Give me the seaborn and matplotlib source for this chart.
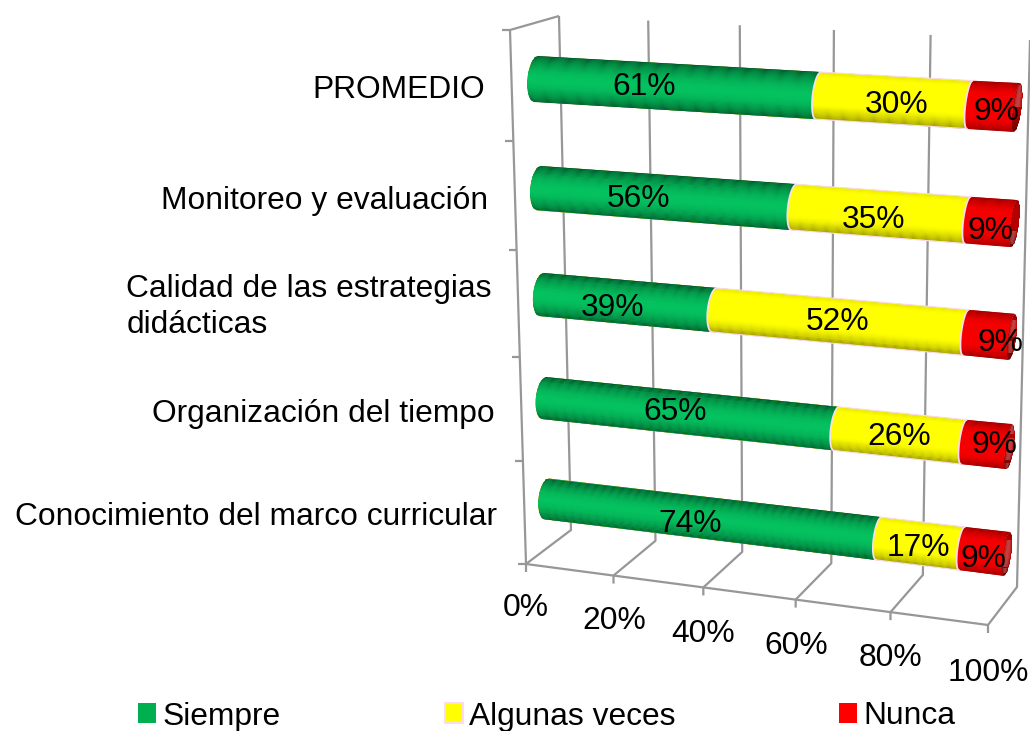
import numpy as np
import pandas as pd
import matplotlib
matplotlib.use("Agg")
import matplotlib.pyplot as plt
from matplotlib.colors import to_rgb
from matplotlib.patches import Patch
from matplotlib.path import Path
from matplotlib.transforms import Transform, IdentityTransform
import seaborn as sns

# ---- data -------------------------------------------------------------
categories = ["PROMEDIO", "Monitoreo y evaluación",
              "Calidad de las estrategias\ndidácticas",
              "Organización del tiempo", "Conocimiento del marco curricular"]
siempre = [61, 56, 39, 65, 74]
algunas = [30, 35, 52, 26, 17]
nunca = [9, 9, 9, 9, 9]
series_names = ["Siempre", "Algunas veces", "Nunca"]
axis_ticks = [0, 20, 40, 60, 80, 100]

# ---- layout (pixels of the 1030x731 canvas) ----------------------------
W, H = 1030, 731
BAR_W = 0.41
HW = BAR_W / 2
GREEN, YELLOW, RED = "#04c25f", "#ffff00", "#f50000"
LEG_COL = ["#00b050", "#ffff00", "#ff0000"]
GRID = "#979797"
PINK = "#fbdcec"
FS = 22.9

sns.set_theme(style="white")
plt.rcParams["font.family"] = ["Liberation Sans", "DejaVu Sans"]


def warp(s, k):
    s = np.asarray(s, float)
    return s / (1 + k * (1 - s))


def lerp(a, b, t):
    return a[0] + (b[0] - a[0]) * t, a[1] + (b[1] - a[1]) * t


class Warp(Transform):
    input_dims = output_dims = 2
    is_separable = False
    has_inverse = False

    def __init__(self, func, steps=1):
        super().__init__()
        self.func = func
        self.steps = steps

    def transform_non_affine(self, xy):
        xy = np.asarray(xy, float)
        px, py = self.func(xy[:, 0], xy[:, 1])
        return np.column_stack([px, H - py])

    def transform_path_non_affine(self, path):
        p = path.interpolated(self.steps) if self.steps > 1 else path
        return Path(self.transform_non_affine(p.vertices), p.codes)


def bar_map(v, y):
    """value / category position -> canvas pixel, on the tilted cylinder plane"""
    u = warp(v / 100.0, 0.10)
    c = np.round(y)
    r = np.clip((y - c) / HW, -1, 1)
    t = 1 - warp(1 - (y / 4.0), 0.055)
    lx0, ly0 = lerp((536, 79), (547, 499), t)
    lx1, ly1 = lerp((1017, 107.5), (1007, 554), t)
    x = lx0 + (lx1 - lx0) * u
    yy = ly0 + (ly1 - ly0) * u
    e = 8.5 - 4.5 * u
    x = x - e * np.sqrt(1 - r ** 2) - 2.5 * r
    return x, yy


def wall_map(v, w):
    """value / wall position: w in [-1,0] floor, [0,1] back wall, < -1 tick"""
    u = warp(v / 100.0, 0.07)
    fx, fy = lerp((526, 564), (988, 625), u)
    bx, by = lerp((571, 530), (1017, 587), u)
    tx, ty = lerp((559, 16), (1030, 40), u)
    x = np.where(w < 0, fx + (bx - fx) * (w + 1), bx + (tx - bx) * w)
    y = np.where(w < 0, fy + (by - fy) * (w + 1), by + (ty - by) * w)
    x = np.where(w < -1, fx, x)
    y = np.where(w < -1, fy + (-1 - w) * 40, y)
    return x, y


def side_map(d, h):
    """tick offset in px / category-edge position on the left wall"""
    t = 1 - warp(1 - h / 5.0, 0.05)
    x, y = lerp((510, 30), (526, 564), t)
    return x + d, y


T_BAR = Warp(bar_map, steps=30)
T_WALL = Warp(wall_map)
T_SIDE = Warp(side_map)

fig = plt.figure(figsize=(W / 100, H / 100), dpi=100)
ax_frame = fig.add_axes([0, 0, 1, 1], label="frame", zorder=0)
ax = fig.add_axes([0, 0, 1, 1], label="bars", zorder=1)
ax_top = fig.add_axes([0, 0, 1, 1], label="top", zorder=2)
for a in (ax_frame, ax_top):
    a.set_axis_off()

# ---- frame -------------------------------------------------------------
lk = dict(color=GRID, lw=1.6, zorder=1, clip_on=False, solid_capstyle="butt")
for tv in axis_ticks:
    ax_frame.plot([tv, tv, tv, tv], [-1.2, -1, 0, 1], transform=T_WALL, **lk)
ax_frame.plot([0, 100], [-1, -1], transform=T_WALL, **lk)
ax_frame.plot([0, 0], [0, 5], transform=T_SIDE, **lk)
for h in range(6):
    ax_frame.plot([-8, 0], [h, h], transform=T_SIDE, **lk)
ax_frame.plot([510, 559], [H - 30, H - 16], transform=IdentityTransform(), **lk)

# ---- bars: stacked by overdrawing the cumulative totals ----------------
df = pd.DataFrame({"cat": categories, "s": siempre, "a": algunas, "n": nunca})
df["c1"] = df["s"]
df["c2"] = df["s"] + df["a"]
df["c3"] = df["c2"] + df["n"]
for col, colr in (("c3", RED), ("c2", YELLOW), ("c1", GREEN)):
    sns.barplot(data=df, y="cat", x=col, color=colr, saturation=1, width=BAR_W,
                errorbar=None, ax=ax, linewidth=0, zorder=2)
ax.set_axis_off()
for p in ax.patches:
    p.set_transform(T_BAR)
    p.set_clip_on(False)


# ---- cylinder shading ---------------------------------------------------
def shade(kind, r):
    if kind == 0:
        return 0.55 * np.abs(r) ** 2.0
    if kind == 1:
        return 0.42 * np.clip((r - 0.35) / 0.65, 0, 1) ** 1.4 + 0.1 * np.clip((-r - 0.8) / 0.2, 0, 1)
    return 0.38 * np.clip((np.abs(r) - 0.45) / 0.55, 0, 1) ** 1.5


rows = 48
bases = [np.array(to_rgb(c)) for c in (GREEN, YELLOW, RED)]
for i in range(len(categories)):
    edges = [0, df.c1[i], df.c2[i], df.c3[i]]
    rr = np.linspace(-1, 1, rows + 1)
    rc = (rr[:-1] + rr[1:]) / 2
    for k in range(3):
        V = np.column_stack([np.full_like(rr, edges[k]), np.full_like(rr, edges[k + 1])])
        Y = np.column_stack([i + rr * HW, i + rr * HW])
        C = (1 - shade(k, rc))[:, None, None] * bases[k][None, None, :]
        m = ax_top.pcolormesh(V, Y, C, transform=T_BAR, antialiased=True, linewidth=0,
                              edgecolors="face", zorder=3)
        m.set_clip_on(False)
    # dark end cap of the cylinder
    capw = 1.62 * np.sqrt(np.clip(1 - rr ** 2, 0, 1))
    VV = np.column_stack([np.full_like(rr, 100.0), 100 + capw])
    C = np.zeros((rows, 1, 3))
    dark = 0.70 - 0.30 * np.clip((rc - 0.2) / 0.8, 0, 1) - 0.1 * np.clip((-rc - 0.6) / 0.4, 0, 1)
    C[..., 0] = dark[:, None]
    m = ax_top.pcolormesh(VV, Y, C, transform=T_BAR, antialiased=True, linewidth=0,
                          edgecolors="face", zorder=3.1)
    m.set_clip_on(False)
    # pale rims between the segments and around the yellow one
    yy = i + np.linspace(-HW, HW, 30)
    ek = dict(transform=T_BAR, color=PINK, lw=1.3, zorder=3.5, clip_on=False)
    for seam in edges[1:3]:
        ax_top.plot(np.full_like(yy, seam), yy, **ek)
    ax_top.plot([edges[1], edges[2]], [i - HW, i - HW], **{**ek, "lw": 0.8})
    ax_top.plot([edges[1], edges[2]], [i + HW, i + HW], **{**ek, "lw": 0.8})
ax_top.set_xlim(0, 1)
ax_top.set_ylim(0, 1)
ax_frame.set_xlim(0, 1)
ax_frame.set_ylim(0, 1)

# ---- texts -------------------------------------------------------------
IDT = IdentityTransform()


def put(x, y, s, **kw):
    ax_top.text(x, H - y, s, transform=IDT, fontsize=FS, color="black", zorder=6, clip_on=False, **kw)


value_xy = [[(644, 87), (897, 105), (996, 112)],
            [(638, 199), (874, 220), (990, 231)],
            [(613, 308), (838, 322), (1000, 343)],
            [(675, 412), (899, 437), (994, 445)],
            [(690, 524), (918, 548), (983, 559)]]
for i in range(len(categories)):
    for val, (x, y) in zip((siempre[i], algunas[i], nunca[i]), value_xy[i]):
        put(x, y, f"{val}%", ha="center", va="center")

cat_xy = [(485, 90), (488, 201), (492, 307), (495, 414), (497, 517)]
for s, (x, y) in zip(categories, cat_xy):
    put(x, y, s, ha="right", va="center", multialignment="left", linespacing=1.3)

tick_xy = [(526, 608), (614, 621), (703, 634), (796, 646), (890, 658), (988, 673)]
for tv, (x, y) in zip(axis_ticks, tick_xy):
    put(x, y, f"{tv}%", ha="center", va="center")

# ---- legend ------------------------------------------------------------
handles = [Patch(facecolor=c, edgecolor=e, linewidth=lw, label=n)
           for c, e, lw, n in zip(LEG_COL, ["none", PINK, "none"], [0, 1.5, 0], series_names)]
ax_top.legend(handles=handles, ncol=3, loc="center", bbox_to_anchor=(547 / W, 1 - 716.5 / H),
              bbox_transform=fig.transFigure, frameon=False, fontsize=FS, labelcolor="black",
              handlelength=0.57, handleheight=0.57, handletextpad=0.2, columnspacing=5.15,
              borderpad=0, borderaxespad=0)

fig.savefig("out.png", dpi=100)
